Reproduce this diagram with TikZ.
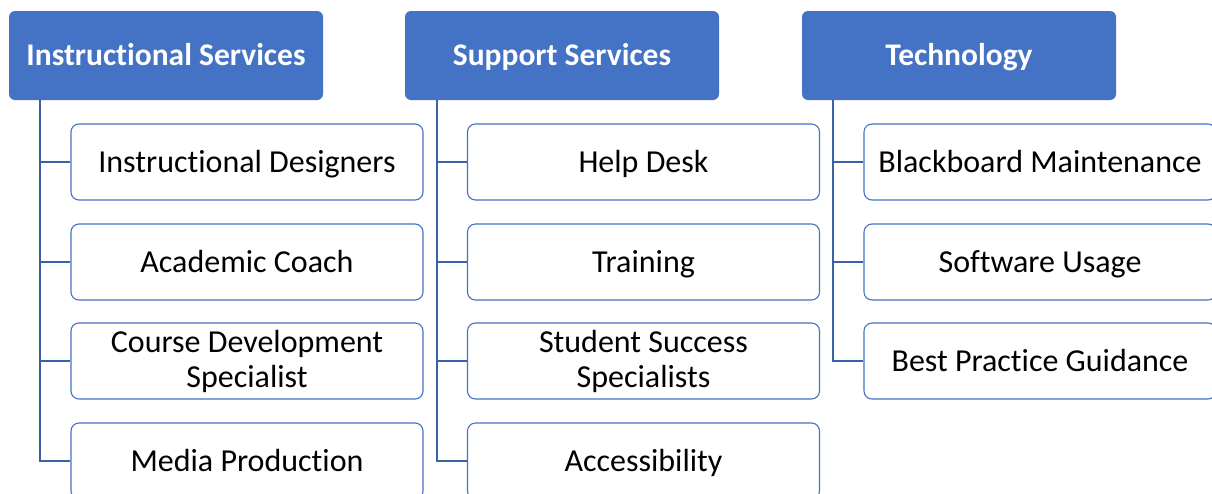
\documentclass[tikz,border=0pt]{standalone}
\usepackage{fontspec}
\setmainfont{Carlito}[Ligatures={NoCommon}]
\usepackage{xcolor}
\usepackage{tikz}

\definecolor{accent}{HTML}{4472C4}

\tikzset{
  header/.style={rectangle, rounded corners=6, fill=accent, text=white, font=\fontsize{31.5}{35}\selectfont\bfseries, minimum width=314, minimum height=89, inner sep=0, text height=26, text depth=7},
  box/.style={rectangle, rounded corners=8, draw=accent, line width=1.1, fill=white, text=black, font=\fontsize{32}{35}\selectfont, align=center, minimum width=352, minimum height=76, inner sep=0},
  item/.style={box, text height=27, text depth=7},
  pair/.style={box},
  branch/.style={draw=accent!85!black, line width=1.3}
}

\begin{document}
\begin{tikzpicture}[x=1pt, y=-1pt]
    \clip (0,0) rectangle (1212,493);
    \fill[white] (0,0) rectangle (1212,493);

    % column heads
    \node (instr) [header] at (166, 55.5) {Instructional Services};
    \node (supp) [header] at (562, 55.5) {Support Services};
    \node (tech) [header] at (959, 55.5) {Technology};

    % trunk tops
    \coordinate (instrtop) at (40, 100);
    \coordinate (supptop) at (437, 100);
    \coordinate (techtop) at (833, 100);

    % instructional services
    \node (designers) [item] at (247, 162) {Instructional Designers};
    \node (coach) [item] at (247, 262) {Academic Coach};
    \node (course) [pair] at (247, 361) {Course Development\\Specialist};
    \node (media) [item] at (247, 461) {Media Production};

    % support services
    \node (helpdesk) [item] at (643.5, 162) {Help Desk};
    \node (training) [item] at (643.5, 262) {Training};
    \node (success) [pair] at (643.5, 361) {Student Success\\Specialists};
    \node (access) [item] at (643.5, 461) {Accessibility};

    % technology
    \node (blackboard) [item] at (1040, 162) {Blackboard Maintenance};
    \node (software) [item] at (1040, 262) {Software Usage};
    \node (practice) [item] at (1040, 361) {Best Practice Guidance};

    \draw [branch] (instrtop) |- (designers.west);
    \draw [branch] (instrtop) |- (coach.west);
    \draw [branch] (instrtop) |- (course.west);
    \draw [branch] (instrtop) |- (media.west);
    \draw [branch] (supptop) |- (helpdesk.west);
    \draw [branch] (supptop) |- (training.west);
    \draw [branch] (supptop) |- (success.west);
    \draw [branch] (supptop) |- (access.west);
    \draw [branch] (techtop) |- (blackboard.west);
    \draw [branch] (techtop) |- (software.west);
    \draw [branch] (techtop) |- (practice.west);
  \end{tikzpicture}
\end{document}
